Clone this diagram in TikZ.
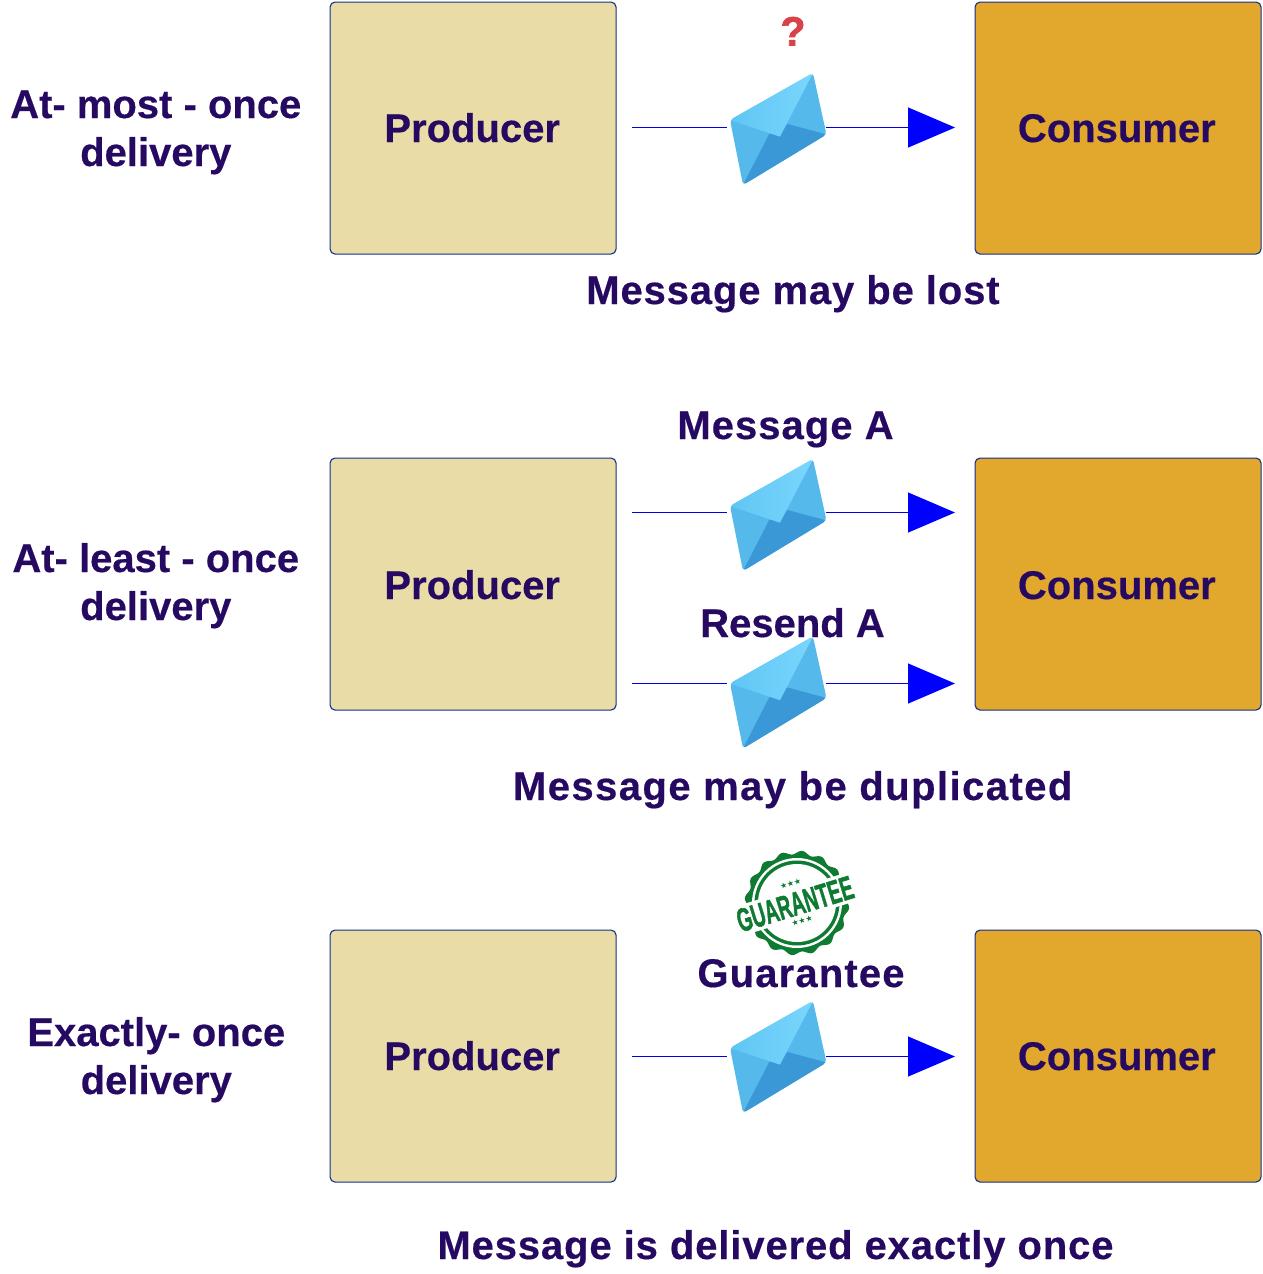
\documentclass[tikz,border=0pt]{standalone}
\usepackage{fontspec}
\setmainfont[BoldFeatures={FakeBold=0.4}]{Liberation Sans}
\newfontfamily\symfont{DejaVu Sans}
\newfontfamily\heavyfont[FakeBold=1.6]{Liberation Sans Bold}
\usetikzlibrary{arrows.meta}
\definecolor{ink}{HTML}{260A62}
\definecolor{prodfill}{HTML}{E9DCA7}
\definecolor{consfill}{HTML}{E2A82E}
\definecolor{edge}{HTML}{12308C}
\definecolor{stamp}{HTML}{0E7A32}
\definecolor{qred}{HTML}{D8434A}
\definecolor{envside}{HTML}{56B9EC}
\definecolor{envdark}{HTML}{3A98D6}
\definecolor{envlo}{HTML}{5CC3F3}
\definecolor{envhi}{HTML}{7AD6FD}
\tikzset{
  x=1pt,y=-1pt,
  boxbase/.style={draw=edge,line width=1.1pt,rounded corners=5pt,minimum width=286pt,minimum height=252pt,inner sep=0pt,anchor=north west},
  prodbox/.style={boxbase,fill=prodfill},
  consbox/.style={boxbase,fill=consfill},
  boxtext/.style={text=ink,font=\bfseries\fontsize{40}{48}\selectfont,anchor=base,inner sep=0pt},
  sidelabel/.style={text=ink,font=\bfseries\fontsize{40}{48}\selectfont,anchor=base,inner sep=0pt,align=center},
  msgtext/.style={text=ink,font=\bfseries\addfontfeature{LetterSpace=#1}\fontsize{40}{48}\selectfont,anchor=base,inner sep=0pt},
  link/.style={draw=blue!90!black,line width=1.1pt},
  pointer/.style={link,-{Triangle[length=47pt,width=40pt,color=blue]}},
  envelope/.pic={
    \begin{scope}
      \clip[rounded corners=3.5pt] (35,-56) -- (-48,-9) -- (-35,56) -- (48.5,5.5) -- cycle;
      \fill[envside] (-60,-70) rectangle (60,70);
      \fill[envdark] (-35,56) -- (-9,5.3) -- (9.7,-5) -- (48.5,5.5) -- (50,60) -- cycle;
      \shade[left color=envlo,right color=envhi] (-48,-9) -- (2,7.7) -- (35,-56) -- (30,-70) -- (-60,-30) -- cycle;
    \end{scope}
    \coordinate (-w) at (-51,0);
    \coordinate (-e) at (48,0);
  }
}
\begin{document}
\begin{tikzpicture}
\useasboundingbox (0,0) rectangle (1262,1274);

% row 1
\node[prodbox] (p1) at (329.5,1.5) {};
\node[consbox] (c1) at (974.5,1.5) {};
\node[boxtext] (p1t) at (472.2,142) {Producer};
\node[boxtext] (c1t) at (1116.8,142) {Consumer};
\node[sidelabel] (l1) at (155.8,166) {At- most - once\\delivery};
\node[msgtext=2.2] (m1) at (793,304) {Message may be lost};
\node[text=qred,font=\heavyfont\fontsize{41}{48}\selectfont,anchor=base,inner sep=0pt] (q) at (793,45.5) {?};
\coordinate (s1) at (632,127.5);
\coordinate (t1) at (955,127.5);
\pic (e1) at (778,129) {envelope};
\draw[link] (s1) -- (e1-w |- s1);
\draw[pointer] (e1-e |- t1) -- (t1);

% row 2
\node[prodbox] (p2) at (329.5,457.5) {};
\node[consbox] (c2) at (974.5,457.5) {};
\node[boxtext] (p2t) at (472.2,599) {Producer};
\node[boxtext] (c2t) at (1116.8,599) {Consumer};
\node[sidelabel] (l2) at (155.8,620) {At- least - once\\delivery};
\node[msgtext=2.6] (m2a) at (785.5,439) {Message A};
\node[msgtext=0] (m2b) at (792.5,637) {Resend A};
\node[msgtext=3.6] (m2) at (792.7,800) {Message may be duplicated};
\coordinate (s2) at (632,512.5);
\coordinate (t2) at (955,512.5);
\coordinate (s3) at (632,683.5);
\coordinate (t3) at (955,683.5);
\pic (e2) at (778,515) {envelope};
\pic (e3) at (778,692.5) {envelope};
\draw[link] (s2) -- (e2-w |- s2);
\draw[pointer] (e2-e |- t2) -- (t2);
\draw[link] (s3) -- (e3-w |- s3);
\draw[pointer] (e3-e |- t3) -- (t3);

% row 3
\node[prodbox] (p3) at (329.5,929.5) {};
\node[consbox] (c3) at (974.5,929.5) {};
\node[boxtext] (p3t) at (472.2,1070) {Producer};
\node[boxtext] (c3t) at (1116.8,1070) {Consumer};
\node[sidelabel] (l3) at (156.3,1094) {Exactly- once\\delivery};
\node[msgtext=2.9] (m3a) at (801,987) {Guarantee};
\node[msgtext=2.2] (m3) at (775.5,1259) {Message is delivered exactly once};
\coordinate (s4) at (632,1056.5);
\coordinate (t4) at (955,1056.5);
\pic (e4) at (778,1057) {envelope};
\draw[link] (s4) -- (e4-w |- s4);
\draw[pointer] (e4-e |- t4) -- (t4);

% guarantee stamp
\fill[stamp,shift={(797,903)}] plot[domain=0:360,samples=241,smooth] (\x:{50.5+1.8*sin(16*\x)}) -- cycle;
\fill[white] (797,903) circle (45);
\fill[stamp] (797,903) circle (42.5);
\fill[white] (797,903) circle (39);
\fill[white,rotate around={17:(795,904)}] (732,889) rectangle (858,919);
\node[text=stamp,rotate=17,inner sep=0pt,font=\heavyfont\fontsize{33}{24}\selectfont] (gt) at (795,904) {\scalebox{0.575}[1]{GUARANTEE}};
\node[text=stamp,rotate=17,inner sep=0pt,font=\symfont\fontsize{8}{8}\selectfont] (st1) at (790.5,884) {★★★};
\node[text=stamp,rotate=17,inner sep=0pt,font=\symfont\fontsize{8}{8}\selectfont] (st2) at (802,921) {★★★};
\end{tikzpicture}
\end{document}
